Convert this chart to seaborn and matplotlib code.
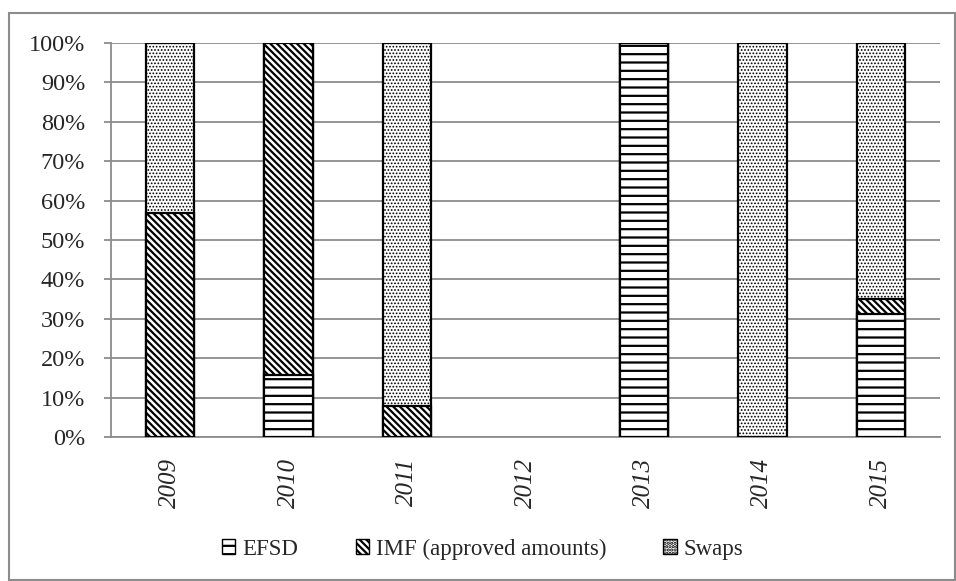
import matplotlib
matplotlib.use("Agg")
import matplotlib.pyplot as plt
from matplotlib.patches import Patch, Rectangle
import numpy as np
import pandas as pd
import seaborn as sns

years = ["2009", "2010", "2011", "2012", "2013", "2014", "2015"]
efsd = [0.0, 15.7, 0.0, 0.0, 100.0, 0.0, 31.3]
imf = [56.9, 84.3, 7.9, 0.0, 0.0, 0.0, 3.7]
swaps = [43.1, 0.0, 92.1, 0.0, 0.0, 100.0, 65.0]
y_ticks = [0, 10, 20, 30, 40, 50, 60, 70, 80, 90, 100]

sns.set_style("white")
plt.rcParams["font.family"] = ["Liberation Serif", "DejaVu Serif"]
plt.rcParams["hatch.linewidth"] = 1.6

df = pd.DataFrame({"year": years, "efsd": efsd, "imf": imf, "swaps": swaps})
df["lvl1"] = df["efsd"]
df["lvl2"] = df["efsd"] + df["imf"]
df["lvl3"] = df["efsd"] + df["imf"] + df["swaps"]

fig = plt.figure(figsize=(9.56, 5.81), dpi=100)
ax = fig.add_axes([111 / 956, 1 - 437 / 581, (940 - 111) / 956, (437 - 43) / 581])

# stacked look: cumulative totals drawn back to front, each with a white fill
layers = [("lvl3", ".....", "Swaps", 0.8),
          ("lvl2", "\\\\\\\\\\", "IMF (approved amounts)", 1.6),
          ("lvl1", "--", "EFSD", 1.6)]
for col, hatch, _, hlw in layers:
    n_before = len(ax.patches)
    sns.barplot(data=df, x="year", y=col, order=years, ax=ax, color="white",
                edgecolor="black", linewidth=1.6, hatch=hatch, width=0.41,
                saturation=1, zorder=3)
    for p in ax.patches[n_before:]:
        if hasattr(p, "set_hatch_linewidth"):
            p.set_hatch_linewidth(hlw)
        if p.get_height() == 0:
            p.set_visible(False)

ax.set_ylim(0, 100)
ax.set_xlim(-0.5, len(years) - 0.5)
ax.set_yticks(y_ticks)
ax.set_yticklabels([f"{v}%" for v in y_ticks], fontsize=17.5)
ax.yaxis.grid(True, color="#8c8c8c", linewidth=1.3, zorder=0)
ax.set_axisbelow(True)
ax.set_xlabel("")
ax.set_ylabel("")

ax.set_xticks(np.arange(len(years)))
ax.set_xticklabels(years, rotation=90, fontsize=18, style="italic")
ax.tick_params(axis="x", length=0, pad=15)
ax.set_xticks(np.arange(len(years) + 1) - 0.5, minor=True)
ax.tick_params(axis="x", which="minor", length=5, width=1.3, color="#8c8c8c", direction="out")
ax.tick_params(axis="y", length=5, width=1.3, color="#8c8c8c", direction="out", pad=13.5, left=True)

for s in ["top", "right"]:
    ax.spines[s].set_visible(False)
for s in ["left", "bottom"]:
    ax.spines[s].set_color("#8c8c8c")
    ax.spines[s].set_linewidth(1.3)

handles = []
for _, h, lab, hlw in reversed(layers):
    hp = Patch(facecolor="white", edgecolor="black", hatch=h, label=lab)
    if hasattr(hp, "set_hatch_linewidth"):
        hp.set_hatch_linewidth(hlw)
    handles.append(hp)
fig.legend(handles=handles, loc="center", bbox_to_anchor=(0.505, 1 - 549 / 581), ncol=3,
           frameon=False, fontsize=16.5, handlelength=0.58, handleheight=0.58,
           handletextpad=0.3, columnspacing=2.5)

fig.patches.append(Rectangle((9 / 956, 1 / 581), (955 - 9) / 956, 567 / 581,
                             transform=fig.transFigure, fill=False,
                             edgecolor="#8c8c8c", linewidth=1.5))

fig.savefig("out.png", dpi=100)
